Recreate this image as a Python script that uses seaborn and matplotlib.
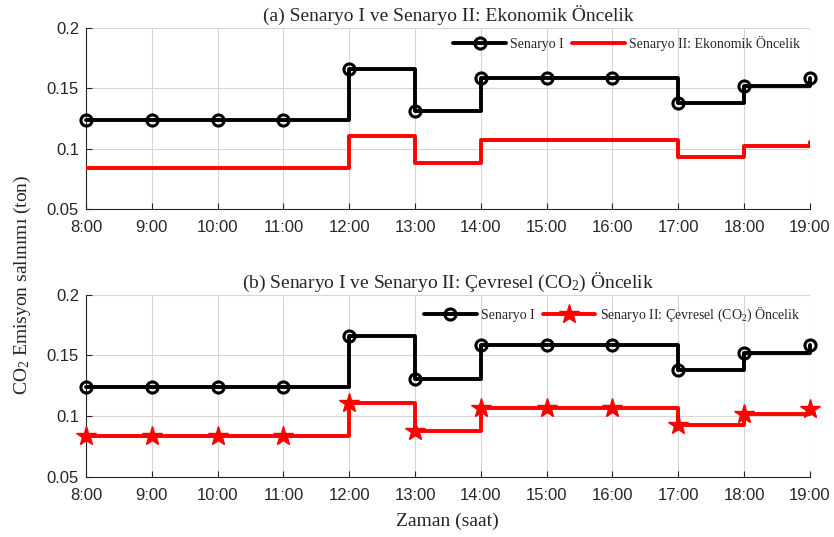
import matplotlib
matplotlib.use("Agg")
import matplotlib.pyplot as plt
from matplotlib.ticker import FormatStrFormatter
import numpy as np
import pandas as pd
import seaborn as sns

# saatler (8:00 - 19:00)
hours = [8, 9, 10, 11, 12, 13, 14, 15, 16, 17, 18, 19]
hour_labels = [f"{h}:00" for h in hours]

# CO2 emisyonu (ton)
senaryo1 = [0.124, 0.124, 0.124, 0.124, 0.166, 0.131, 0.159, 0.159, 0.159, 0.138, 0.152, 0.159]
senaryo2_ekonomik = [0.084, 0.084, 0.084, 0.084, 0.111, 0.088, 0.107, 0.107, 0.107, 0.093, 0.102, 0.106]
senaryo2_cevresel = [0.084, 0.084, 0.084, 0.084, 0.111, 0.088, 0.107, 0.107, 0.107, 0.093, 0.102, 0.106]

titles = ["(a) Senaryo I ve Senaryo II: Ekonomik Öncelik",
          r"(b) Senaryo I ve Senaryo II: Çevresel (CO$_\mathrm{2}$) Öncelik"]
red_labels = ["Senaryo II: Ekonomik Öncelik",
              r"Senaryo II: Çevresel (CO$_\mathrm{2}$) Öncelik"]

sns.set_style("ticks")
plt.rcParams["font.family"] = ["Liberation Serif", "DejaVu Serif"]
plt.rcParams["mathtext.fontset"] = "custom"
plt.rcParams["mathtext.rm"] = "Liberation Serif"
plt.rcParams["mathtext.it"] = "Liberation Serif:italic"

df = pd.DataFrame({"saat": hours, "s1": senaryo1,
                   "s2e": senaryo2_ekonomik, "s2c": senaryo2_cevresel})

fig = plt.figure(figsize=(8.34, 5.37), dpi=100)
ax_a = fig.add_axes([0.1031, 0.6102, 0.868, 0.3377])
ax_b = fig.add_axes([0.1031, 0.1117, 0.868, 0.3395])

for i, (ax, red_col) in enumerate([(ax_a, "s2e"), (ax_b, "s2c")]):
    sns.lineplot(data=df, x="saat", y="s1", ax=ax, color="black", linewidth=2.8,
                 drawstyle="steps-post", marker="o", markersize=8,
                 markerfacecolor="none", markeredgecolor="black", markeredgewidth=2.2,
                 label="Senaryo I", clip_on=False, zorder=3)
    if i == 0:
        sns.lineplot(data=df, x="saat", y=red_col, ax=ax, color="red", linewidth=2.8,
                     drawstyle="steps-post", label=red_labels[i], zorder=3)
    else:
        sns.lineplot(data=df, x="saat", y=red_col, ax=ax, color="red", linewidth=2.8,
                     drawstyle="steps-post", marker="*", markersize=15,
                     markerfacecolor="red", markeredgecolor="red", markeredgewidth=1,
                     label=red_labels[i], clip_on=False, zorder=3)

    ax.set_xlim(8, 19)
    ax.set_ylim(0.05, 0.2)
    ax.set_xticks(hours)
    ax.set_xticklabels(hour_labels)
    ax.set_yticks([0.05, 0.1, 0.15, 0.2])
    ax.yaxis.set_major_formatter(FormatStrFormatter("%g"))
    ax.tick_params(direction="in", length=4, labelsize=12, width=0.8)
    ax.tick_params(axis="x", pad=8)
    ax.tick_params(axis="y", pad=5)
    for lab in ax.get_xticklabels() + ax.get_yticklabels():
        lab.set_fontfamily("Liberation Sans")
    ax.grid(True, color="#d6d6d6", linewidth=0.8)
    ax.set_axisbelow(True)
    sns.despine(ax=ax)
    ax.set_xlabel("")
    ax.set_ylabel("")
    ax.set_title(titles[i], fontsize=14, pad=5)

    leg = ax.legend(loc="upper right", bbox_to_anchor=(1.0, 1.01) if i == 0 else (1.0, 1.0),
                    ncol=2, frameon=False, fontsize=10, handlelength=3.8,
                    columnspacing=0.6, handletextpad=0.3, borderaxespad=0.3)

fig.text(0.027, 0.47, r"CO$_\mathrm{2}$ Emisyon salınımı (ton)", rotation=90,
         va="center", ha="center", fontsize=14)
fig.text(0.537, 0.03, "Zaman (saat)", ha="center", va="center", fontsize=14)

fig.savefig("out.png", dpi=100)
